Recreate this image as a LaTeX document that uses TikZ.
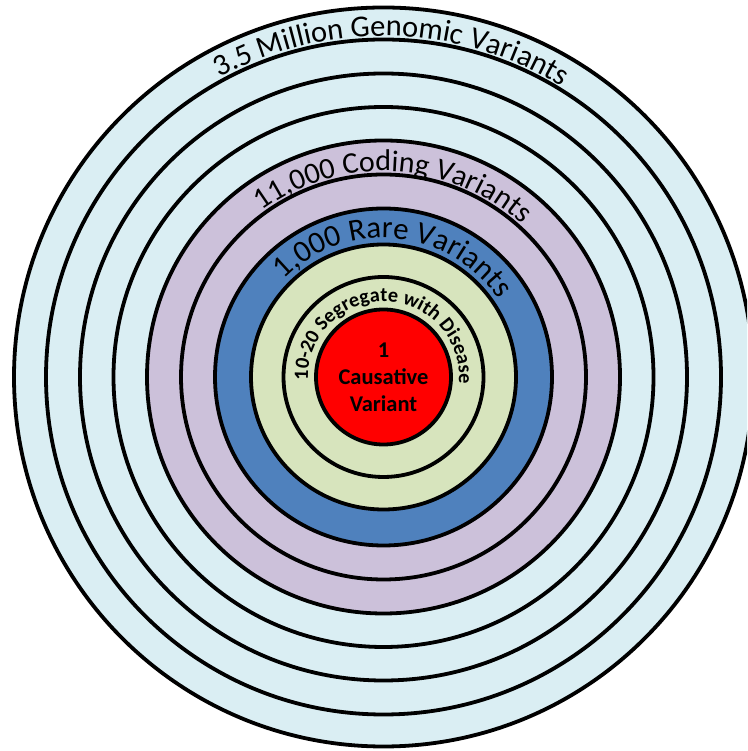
\documentclass[tikz,border=0pt]{standalone}
\usepackage{fontspec}
\setmainfont{Carlito}
\usetikzlibrary{decorations.text}
\definecolor{ltblue}{HTML}{DAEEF3}
\definecolor{purp}{HTML}{CCC1DA}
\definecolor{mblue}{HTML}{4F81BD}
\definecolor{grn}{HTML}{D7E4BD}
\definecolor{core}{HTML}{FF0000}
\begin{document}
\begin{tikzpicture}[x=1pt,y=1pt,
  ring/.style={draw=black,line width=3.8pt},
  arclabel/.style={decorate,decoration={text along path,text align=center,text={#1}}}]
\useasboundingbox (0,0) rectangle (747,751);
\begin{scope}
\clip (0,0) rectangle (747,751);
\coordinate (c) at (383.5,374);
\foreach \r/\col in {369.5/ltblue,337.5/ltblue,303.5/ltblue,270/ltblue,236.5/purp,202.5/purp,168.5/mblue,132.5/grn,100/grn}
  \draw[ring,fill=\col] (c) circle[radius=\r];
\node[circle,ring,fill=core,minimum size=135pt,inner sep=0pt,align=center,
  font=\bfseries\fontsize{22.5}{27}\selectfont] (centre) at (c) {1\\Causative\\Variant};
\path[arclabel={|\fontsize{30.5}{30}\selectfont|3.5 Million Genomic Variants}]
  ([shift={(178.6:341)}]c) arc[start angle=178.6,end angle=-1.4,radius=341];
\path[arclabel={|\fontsize{30}{30}\selectfont|11,000 Coding Variants}]
  ([shift={(177:206)}]c) arc[start angle=177,end angle=-3,radius=206];
\path[arclabel={|\fontsize{31}{31}\selectfont|1,000 Rare Variants}]
  ([shift={(175:139)}]c) arc[start angle=175,end angle=-5,radius=139];
\path[arclabel={|\bfseries\fontsize{20.3}{20}\selectfont|10-20 Segregate with Disease}]
  ([shift={(208.5:75.5)}]c) arc[start angle=208.5,end angle=-31.5,radius=75.5];
\end{scope}
\end{tikzpicture}
\end{document}
